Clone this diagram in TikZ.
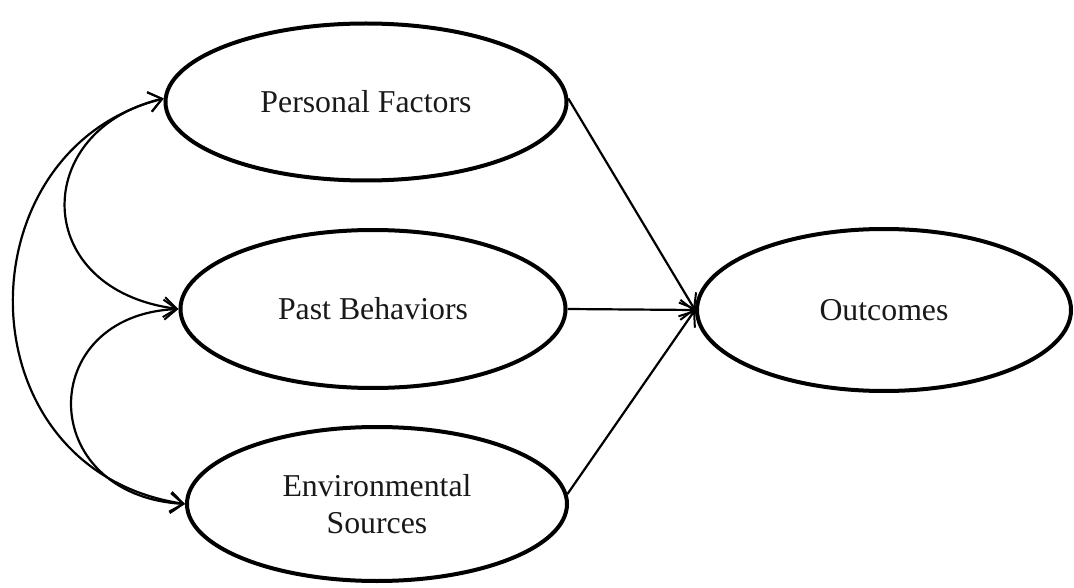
\documentclass[tikz,border=0pt]{standalone}
\usepackage{fontspec}
\setmainfont{Liberation Serif}
\usetikzlibrary{shapes.geometric,arrows.meta}
\begin{document}
\begin{tikzpicture}[x=1pt,y=1pt,
  construct/.style={ellipse,draw=black,line width=4pt,inner sep=0pt,align=center,
    font=\fontsize{31.8}{37}\selectfont,text=black!90},
  link/.style={line width=2.2pt,-{Straight Barb[length=13pt,width=20pt,line width=2pt]}},
  bilink/.style={line width=2.2pt,{Straight Barb[length=13pt,width=20pt,line width=2pt]}-{Straight Barb[length=13pt,width=20pt,line width=2pt]}}]
\useasboundingbox (0,0) rectangle (1074,-588);
\node[construct,minimum width=401pt,minimum height=157pt] (pf) at (366,-102) {Personal Factors};
\node[construct,minimum width=385pt,minimum height=158pt] (pb) at (373,-309) {Past Behaviors};
\node[construct,minimum width=380pt,minimum height=154pt] (es) at (377,-504) {Environmental\\Sources};
\node[construct,minimum width=374pt,minimum height=162pt] (oc) at (884,-310) {Outcomes};
\draw[link] (pf.1) -- (oc.west);
\draw[link] (pb.east) -- (oc.west);
\draw[link] (es.3) -- (oc.west);
\draw[bilink] (pf.179) .. controls (30,-130) and (30,-290) .. (pb.west);
\draw[bilink] (pb.west) .. controls (35,-315) and (35,-495) .. (es.west);
\draw[bilink] (pf.179) .. controls (-40,-150) and (-40,-470) .. (es.west);
\end{tikzpicture}
\end{document}
